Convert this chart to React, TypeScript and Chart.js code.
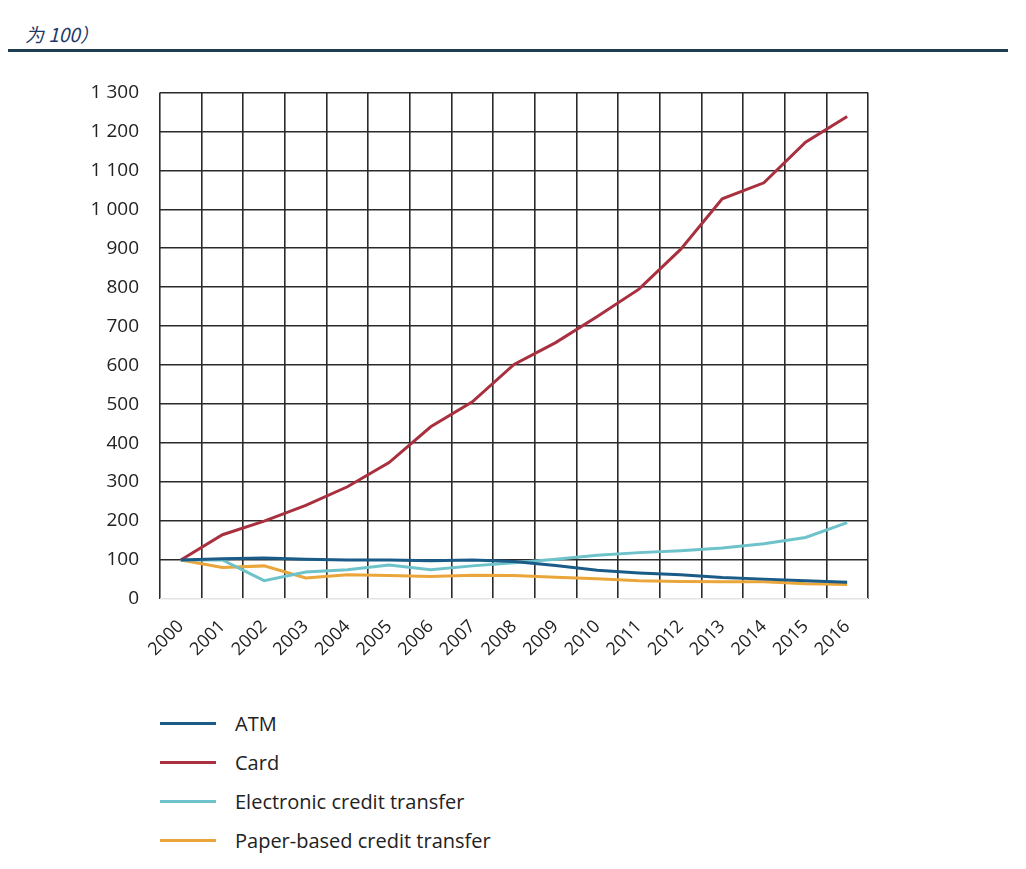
import React, { useEffect, useRef } from "react";
import { Chart, registerables } from "chart.js";

Chart.register(...registerables);

const years = ["2000","2001","2002","2003","2004","2005","2006","2007","2008","2009","2010","2011","2012","2013","2014","2015","2016"];
const atm = [100, 103, 105, 102, 100, 100, 98, 100, 96, 86, 74, 67, 62, 55, 51, 47, 43];
const card = [100, 165, 200, 240, 288, 350, 442, 506, 602, 658, 725, 795, 897, 1027, 1068, 1172, 1238];
const electronic = [100, 100, 47, 69, 75, 87, 75, 85, 93, 102, 112, 119, 124, 131, 142, 158, 196];
const paper = [100, 81, 85, 54, 62, 60, 58, 61, 60, 56, 52, 47, 45, 44, 44, 39, 37];

const seriesNames = ["ATM", "Card", "Electronic credit transfer", "Paper-based credit transfer"];
const seriesColors = ["#1b5b87", "#a8303f", "#6dc3c9", "#eaa63a"];
const seriesData = [atm, card, electronic, paper];

const yMax = 1300;
const yStep = 100;

function fmt(v: number): string {
  if (v >= 1000) return `${Math.floor(v / 1000)} ${String(v % 1000).padStart(3, "0")}`;
  return String(v);
}

const FONT = "'Open Sans', Lato, sans-serif";

export default function App() {
  const ref = useRef<HTMLCanvasElement | null>(null);
  useEffect(() => {
    if (!ref.current) return;
    const chart = new Chart(ref.current, {
      type: "line",
      data: {
        labels: years,
        datasets: seriesData.map((d, i) => ({
          label: seriesNames[i],
          data: d,
          borderColor: seriesColors[i],
          backgroundColor: seriesColors[i],
          borderWidth: 3,
          pointRadius: 0,
          tension: 0,
          fill: false,
        })),
      },
      options: {
        animation: false,
        responsive: false,
        devicePixelRatio: 1,
        layout: { padding: { top: 10, right: 32, left: 0, bottom: 0 } },
        plugins: { legend: { display: false }, tooltip: { enabled: false } },
        scales: {
          x: {
            type: "category",
            offset: true,
            grid: { offset: true, color: "#2a2a2a", lineWidth: 1.6, drawTicks: false },
            border: { display: false },
            ticks: {
              maxRotation: 45,
              minRotation: 45,
              autoSkip: false,
              padding: 17,
              color: "#222",
              font: { family: FONT, size: 18 },
            },
            afterFit: (s: any) => { s.height = 91; },
          },
          y: {
            min: 0,
            max: yMax,
            grid: {
              color: (ctx: any) => (ctx.tick && ctx.tick.value === 0 ? "#e4e4e4" : "#2a2a2a"),
              lineWidth: 1.6,
              drawTicks: false,
            },
            border: { display: false },
            ticks: {
              stepSize: yStep,
              padding: 21,
              color: "#222",
              font: { family: FONT, size: 19 },
              callback: (v: any) => fmt(Number(v)),
            },
            afterFit: (s: any) => { s.width = 160; },
          },
        },
      },
    });
    return () => chart.destroy();
  }, []);

  return (
    <div style={{ position: "absolute", left: 0, top: 0, width: 1026, height: 869, background: "#fff", fontFamily: FONT }}>
      <div style={{ position: "absolute", left: 25, top: 20, fontSize: 19, fontStyle: "italic", color: "#1f3a68", fontFamily: "'Noto Sans CJK SC', Lato, sans-serif" }}>
        为 100）
      </div>
      <div style={{ position: "absolute", left: 8, top: 49, width: 1000, height: 3, background: "#1d3d4e" }} />
      <canvas ref={ref} width={900} height={630} style={{ position: "absolute", left: 0, top: 60, width: 900, height: 630 }} />
      <div style={{ position: "absolute", left: 160, top: 704 }}>
        {seriesNames.map((n, i) => (
          <div key={n} style={{ display: "flex", alignItems: "center", height: 39 }}>
            <div style={{ width: 56, height: 2.5, background: seriesColors[i] }} />
            <div style={{ marginLeft: 19, fontSize: 20, color: "#222" }}>{n}</div>
          </div>
        ))}
      </div>
    </div>
  );
}
